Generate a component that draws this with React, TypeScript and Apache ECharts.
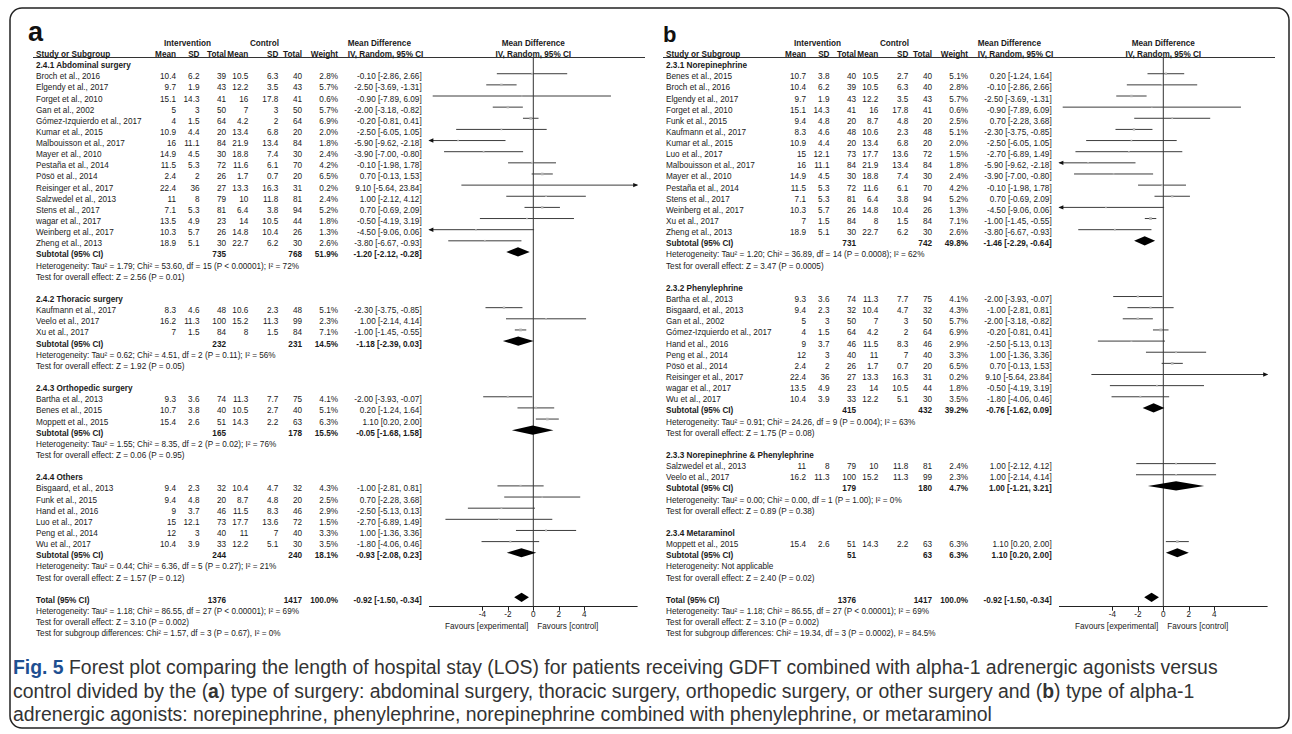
import React, { useEffect, useRef } from "react";
import * as echarts from "echarts";

const FONT = "'Liberation Sans', Arial, Helvetica, sans-serif";
const FS = 8.2;
const INK = "#1a1a1a";

// [study, intervention mean, SD, total, control mean, SD, total, weight %, MD, CI low, CI high]
const studies: [string, number, number, number, number, number, number, number, number, number, number][] = [
  ["Bartha et al., 2013", 9.3, 3.6, 74, 11.3, 7.7, 75, 4.1, -2.0, -3.93, -0.07],
  ["Benes et al., 2015", 10.7, 3.8, 40, 10.5, 2.7, 40, 5.1, 0.2, -1.24, 1.64],
  ["Bisgaard, et al., 2013", 9.4, 2.3, 32, 10.4, 4.7, 32, 4.3, -1.0, -2.81, 0.81],
  ["Broch et al., 2016", 10.4, 6.2, 39, 10.5, 6.3, 40, 2.8, -0.1, -2.86, 2.66],
  ["Elgendy et al., 2017", 9.7, 1.9, 43, 12.2, 3.5, 43, 5.7, -2.5, -3.69, -1.31],
  ["Forget et al., 2010", 15.1, 14.3, 41, 16, 17.8, 41, 0.6, -0.9, -7.89, 6.09],
  ["Funk et al., 2015", 9.4, 4.8, 20, 8.7, 4.8, 20, 2.5, 0.7, -2.28, 3.68],
  ["Gan et al., 2002", 5, 3, 50, 7, 3, 50, 5.7, -2.0, -3.18, -0.82],
  ["Gómez-Izquierdo et al., 2017", 4, 1.5, 64, 4.2, 2, 64, 6.9, -0.2, -0.81, 0.41],
  ["Hand et al., 2016", 9, 3.7, 46, 11.5, 8.3, 46, 2.9, -2.5, -5.13, 0.13],
  ["Kaufmann et al., 2017", 8.3, 4.6, 48, 10.6, 2.3, 48, 5.1, -2.3, -3.75, -0.85],
  ["Kumar et al., 2015", 10.9, 4.4, 20, 13.4, 6.8, 20, 2.0, -2.5, -6.05, 1.05],
  ["Luo et al., 2017", 15, 12.1, 73, 17.7, 13.6, 72, 1.5, -2.7, -6.89, 1.49],
  ["Malbouisson et al., 2017", 16, 11.1, 84, 21.9, 13.4, 84, 1.8, -5.9, -9.62, -2.18],
  ["Mayer et al., 2010", 14.9, 4.5, 30, 18.8, 7.4, 30, 2.4, -3.9, -7.0, -0.8],
  ["Moppett et al., 2015", 15.4, 2.6, 51, 14.3, 2.2, 63, 6.3, 1.1, 0.2, 2.0],
  ["Peng et al., 2014", 12, 3, 40, 11, 7, 40, 3.3, 1.0, -1.36, 3.36],
  ["Pestaña et al., 2014", 11.5, 5.3, 72, 11.6, 6.1, 70, 4.2, -0.1, -1.98, 1.78],
  ["Pösö et al., 2014", 2.4, 2, 26, 1.7, 0.7, 20, 6.5, 0.7, -0.13, 1.53],
  ["Reisinger et al., 2017", 22.4, 36, 27, 13.3, 16.3, 31, 0.2, 9.1, -5.64, 23.84],
  ["Salzwedel et al., 2013", 11, 8, 79, 10, 11.8, 81, 2.4, 1.0, -2.12, 4.12],
  ["Stens et al., 2017", 7.1, 5.3, 81, 6.4, 3.8, 94, 5.2, 0.7, -0.69, 2.09],
  ["Veelo et al., 2017", 16.2, 11.3, 100, 15.2, 11.3, 99, 2.3, 1.0, -2.14, 4.14],
  ["wagar et al., 2017", 13.5, 4.9, 23, 14, 10.5, 44, 1.8, -0.5, -4.19, 3.19],
  ["Weinberg et al., 2017", 10.3, 5.7, 26, 14.8, 10.4, 26, 1.3, -4.5, -9.06, 0.06],
  ["Wu et al., 2017", 10.4, 3.9, 33, 12.2, 5.1, 30, 3.5, -1.8, -4.06, 0.46],
  ["Xu et al., 2017", 7, 1.5, 84, 8, 1.5, 84, 7.1, -1.0, -1.45, -0.55],
  ["Zheng et al., 2013", 18.9, 5.1, 30, 22.7, 6.2, 30, 2.6, -3.8, -6.67, -0.93],
];

// Panel a: by type of surgery
const surgeryTitles = ["2.4.1 Abdominal surgery", "2.4.2 Thoracic surgery", "2.4.3 Orthopedic surgery", "2.4.4 Others"];
const surgeryMembers = [
  ["Broch et al., 2016", "Elgendy et al., 2017", "Forget et al., 2010", "Gan et al., 2002", "Gómez-Izquierdo et al., 2017", "Kumar et al., 2015", "Malbouisson et al., 2017", "Mayer et al., 2010", "Pestaña et al., 2014", "Pösö et al., 2014", "Reisinger et al., 2017", "Salzwedel et al., 2013", "Stens et al., 2017", "wagar et al., 2017", "Weinberg et al., 2017", "Zheng et al., 2013"],
  ["Kaufmann et al., 2017", "Veelo et al., 2017", "Xu et al., 2017"],
  ["Bartha et al., 2013", "Benes et al., 2015", "Moppett et al., 2015"],
  ["Bisgaard, et al., 2013", "Funk et al., 2015", "Hand et al., 2016", "Luo et al., 2017", "Peng et al., 2014", "Wu et al., 2017"],
];
// [int total, ctl total, weight, MD, low, high]
const surgerySubtotals = [
  [735, 768, 51.9, -1.2, -2.12, -0.28],
  [232, 231, 14.5, -1.18, -2.39, 0.03],
  [165, 178, 15.5, -0.05, -1.68, 1.58],
  [244, 240, 18.1, -0.93, -2.08, 0.23],
];
const surgeryHeterogeneity = [
  "Heterogeneity: Tau² = 1.79; Chi² = 53.60, df = 15 (P < 0.00001); I² = 72%",
  "Heterogeneity: Tau² = 0.62; Chi² = 4.51, df = 2 (P = 0.11); I² = 56%",
  "Heterogeneity: Tau² = 1.55; Chi² = 8.35, df = 2 (P = 0.02); I² = 76%",
  "Heterogeneity: Tau² = 0.44; Chi² = 6.36, df = 5 (P = 0.27); I² = 21%",
];
const surgeryEffect = [
  "Test for overall effect: Z = 2.56 (P = 0.01)",
  "Test for overall effect: Z = 1.92 (P = 0.05)",
  "Test for overall effect: Z = 0.06 (P = 0.95)",
  "Test for overall effect: Z = 1.57 (P = 0.12)",
];
const surgerySubgroupTest = "Test for subgroup differences: Chi² = 1.57, df = 3 (P = 0.67), I² = 0%";

// Panel b: by type of alpha-1 agonist
const agonistTitles = ["2.3.1 Norepinephrine", "2.3.2 Phenylephrine", "2.3.3 Norepinephrine & Phenylephrine", "2.3.4 Metaraminol"];
const agonistMembers = [
  ["Benes et al., 2015", "Broch et al., 2016", "Elgendy et al., 2017", "Forget et al., 2010", "Funk et al., 2015", "Kaufmann et al., 2017", "Kumar et al., 2015", "Luo et al., 2017", "Malbouisson et al., 2017", "Mayer et al., 2010", "Pestaña et al., 2014", "Stens et al., 2017", "Weinberg et al., 2017", "Xu et al., 2017", "Zheng et al., 2013"],
  ["Bartha et al., 2013", "Bisgaard, et al., 2013", "Gan et al., 2002", "Gómez-Izquierdo et al., 2017", "Hand et al., 2016", "Peng et al., 2014", "Pösö et al., 2014", "Reisinger et al., 2017", "wagar et al., 2017", "Wu et al., 2017"],
  ["Salzwedel et al., 2013", "Veelo et al., 2017"],
  ["Moppett et al., 2015"],
];
const agonistSubtotals = [
  [731, 742, 49.8, -1.46, -2.29, -0.64],
  [415, 432, 39.2, -0.76, -1.62, 0.09],
  [179, 180, 4.7, 1.0, -1.21, 3.21],
  [51, 63, 6.3, 1.1, 0.2, 2.0],
];
const agonistHeterogeneity = [
  "Heterogeneity: Tau² = 1.20; Chi² = 36.89, df = 14 (P = 0.0008); I² = 62%",
  "Heterogeneity: Tau² = 0.91; Chi² = 24.26, df = 9 (P = 0.004); I² = 63%",
  "Heterogeneity: Tau² = 0.00; Chi² = 0.00, df = 1 (P = 1.00); I² = 0%",
  "Heterogeneity: Not applicable",
];
const agonistEffect = [
  "Test for overall effect: Z = 3.47 (P = 0.0005)",
  "Test for overall effect: Z = 1.75 (P = 0.08)",
  "Test for overall effect: Z = 0.89 (P = 0.38)",
  "Test for overall effect: Z = 2.40 (P = 0.02)",
];
const agonistSubgroupTest = "Test for subgroup differences: Chi² = 19.34, df = 3 (P = 0.0002), I² = 84.5%";

const overallTotal = [1376, 1417, 100.0, -0.92, -1.5, -0.34];
const overallHeterogeneity = "Heterogeneity: Tau² = 1.18; Chi² = 86.55, df = 27 (P < 0.00001); I² = 69%";
const overallEffect = "Test for overall effect: Z = 3.10 (P = 0.002)";

const axisTicks = [-4, -2, 0, 2, 4];

const captionLines = [
  [["Fig. 5", "fig"], [" Forest plot comparing the length of hospital stay (LOS) for patients receiving GDFT combined with alpha-1 adrenergic agonists versus", ""]],
  [["control divided by the (", ""], ["a", "b"], [") type of surgery: abdominal surgery, thoracic surgery, orthopedic surgery, or other surgery and (", ""], ["b", "b"], [") type of alpha-1", ""]],
  [["adrenergic agonists: norepinephrine, phenylephrine, norepinephrine combined with phenylephrine, or metaraminol", ""]],
];

// ---------- layout (pixels) ----------
const ROW_H = 11.14;
const TEXT_TOP = 43.3;
const PLOT_TOP = 40.3;
const AXIS_Y = 606.7;
const XMIN = -8.15;
const XMAX = 8.15;
const PX_PER_UNIT = 12.75;
const SHIFT_B = 630;
const COL = {
  name: 36, m1: 176, sd1: 199.5, n1: 226, m2: 248.3, sd2: 278.3, n2: 302, w: 338, ci: 421.7,
  mdHead: 347.7, intHead: 187.5, ctlHead: 264.5, plotMid: 533.3, favL: 528.3, favR: 537.3,
};
const CAP_FS = 19.4;
const CAP_Y0 = 667;
const CAP_DY = 23.5;

type Cell = { x: number; r: number; t: string; a: string; b: boolean };

const fmtCI = (md: number, lo: number, hi: number) => `${md.toFixed(2)} [${lo.toFixed(2)}, ${hi.toFixed(2)}]`;

function buildPanel(titles: string[], members: string[][], subs: number[][], hets: string[], effects: string[], subgroupTest: string, dx: number) {
  const cells: Cell[] = [];
  const marks: number[][] = [];
  const diamonds: number[][] = [];
  const push = (x: number, r: number, t: string, a: string, b = false) => cells.push({ x: x + dx, r, t, a, b });
  push(COL.intHead, 0, "Intervention", "center", true);
  push(COL.ctlHead, 0, "Control", "center", true);
  push(COL.mdHead, 0, "Mean Difference", "left", true);
  push(COL.plotMid, 0, "Mean Difference", "center", true);
  push(COL.name, 1, "Study or Subgroup", "left", true);
  push(COL.m1, 1, "Mean", "right", true);
  push(COL.sd1, 1, "SD", "right", true);
  push(COL.n1, 1, "Total", "right", true);
  push(COL.m2, 1, "Mean", "right", true);
  push(COL.sd2, 1, "SD", "right", true);
  push(COL.n2, 1, "Total", "right", true);
  push(COL.w, 1, "Weight", "right", true);
  push(COL.mdHead, 1, "IV, Random, 95% CI", "left", true);
  push(COL.plotMid, 1, "IV, Random, 95% CI", "center", true);
  let r = 2;
  titles.forEach((title, gi) => {
    push(COL.name, r, title, "left", true);
    r++;
    members[gi].forEach((nm) => {
      const s = studies.find((q) => q[0] === nm)!;
      push(COL.name, r, s[0], "left");
      push(COL.m1, r, String(s[1]), "right");
      push(COL.sd1, r, String(s[2]), "right");
      push(COL.n1, r, String(s[3]), "right");
      push(COL.m2, r, String(s[4]), "right");
      push(COL.sd2, r, String(s[5]), "right");
      push(COL.n2, r, String(s[6]), "right");
      push(COL.w, r, s[7].toFixed(1) + "%", "right");
      push(COL.ci, r, fmtCI(s[8], s[9], s[10]), "right");
      marks.push([s[8], r, s[9], s[10], s[7]]);
      r++;
    });
    const st = subs[gi];
    push(COL.name, r, "Subtotal (95% CI)", "left", true);
    push(COL.n1, r, String(st[0]), "right", true);
    push(COL.n2, r, String(st[1]), "right", true);
    push(COL.w, r, st[2].toFixed(1) + "%", "right", true);
    push(COL.ci, r, fmtCI(st[3], st[4], st[5]), "right", true);
    diamonds.push([st[3], r, st[4], st[5]]);
    r++;
    push(COL.name, r, hets[gi], "left");
    r++;
    push(COL.name, r, effects[gi], "left");
    r += 2;
  });
  const t = overallTotal;
  push(COL.name, r, "Total (95% CI)", "left", true);
  push(COL.n1, r, String(t[0]), "right", true);
  push(COL.n2, r, String(t[1]), "right", true);
  push(COL.w, r, t[2].toFixed(1) + "%", "right", true);
  push(COL.ci, r, fmtCI(t[3], t[4], t[5]), "right", true);
  diamonds.push([t[3], r, t[4], t[5]]);
  push(COL.name, r + 1, overallHeterogeneity, "left");
  push(COL.name, r + 2, overallEffect, "left");
  push(COL.name, r + 3, subgroupTest, "left");
  const favRow = (626 - TEXT_TOP) / ROW_H;
  push(COL.favL, favRow, "Favours [experimental]", "right");
  push(COL.favR, favRow, "Favours [control]", "left");
  return { cells, marks, diamonds };
}

const panelA = buildPanel(surgeryTitles, surgeryMembers, surgerySubtotals, surgeryHeterogeneity, surgeryEffect, surgerySubgroupTest, 0);
const panelB = buildPanel(agonistTitles, agonistMembers, agonistSubtotals, agonistHeterogeneity, agonistEffect, agonistSubgroupTest, SHIFT_B);
const allCells = [...panelA.cells, ...panelB.cells];

const TABLE_ROWS = 54;
const PLOT_ROWS = (AXIS_Y - PLOT_TOP) / ROW_H;
const PLOT_W = (XMAX - XMIN) * PX_PER_UNIT;
const PLOT_LEFT_A = COL.plotMid - XMAX * PX_PER_UNIT;
const HEADER_LINE_Y = 57.5;

const renderCell = (params: any, api: any) => {
  const c = allCells[params.dataIndex];
  const p = api.coord([api.value(0), api.value(1)]);
  return {
    type: "text",
    x: p[0],
    y: p[1],
    style: {
      text: c.t,
      fill: INK,
      font: `${c.b ? "bold " : ""}${FS}px ${FONT}`,
      textAlign: c.a,
      textVerticalAlign: "middle",
      align: c.a,
      verticalAlign: "middle",
    },
  };
};

const renderStudy = (_params: any, api: any) => {
  const md = api.value(0), r = api.value(1), lo = api.value(2), hi = api.value(3), w = api.value(4);
  const loC = Math.max(lo, XMIN), hiC = Math.min(hi, XMAX);
  const p1 = api.coord([loC, r]);
  const p2 = api.coord([hiC, r]);
  const pc = api.coord([md, r]);
  const children: any[] = [
    { type: "line", shape: { x1: p1[0], y1: p1[1], x2: p2[0], y2: p2[1] }, style: { stroke: "#3c3c3c", lineWidth: 1 } },
  ];
  if (lo < XMIN) {
    children.push({ type: "polygon", shape: { points: [[p1[0] - 1, p1[1]], [p1[0] + 4, p1[1] - 2.2], [p1[0] + 4, p1[1] + 2.2]] }, style: { fill: "#111" } });
  }
  if (hi > XMAX) {
    children.push({ type: "polygon", shape: { points: [[p2[0] + 1, p2[1]], [p2[0] - 4, p2[1] - 2.2], [p2[0] - 4, p2[1] + 2.2]] }, style: { fill: "#111" } });
  }
  if (md >= XMIN && md <= XMAX) {
    const s = 1.2 + w * 0.22;
    children.push({ type: "rect", shape: { x: pc[0] - s / 2, y: pc[1] - s / 2, width: s, height: s }, style: { fill: "#b4b4b4" } });
  }
  return { type: "group", children };
};

const renderDiamond = (_params: any, api: any) => {
  const md = api.value(0), r = api.value(1), lo = api.value(2), hi = api.value(3);
  const pl = api.coord([lo, r]);
  const pr = api.coord([hi, r]);
  const pc = api.coord([md, r]);
  const hh = 4.6;
  return {
    type: "polygon",
    shape: { points: [[pl[0], pl[1]], [pc[0], pc[1] - hh], [pr[0], pr[1]], [pc[0], pc[1] + hh]] },
    style: { fill: "#000" },
  };
};

const renderZero = (_params: any, api: any) => {
  const a = api.coord([0, api.value(0)]);
  const b = api.coord([0, api.value(1)]);
  return { type: "line", shape: { x1: a[0], y1: a[1], x2: b[0], y2: b[1] }, style: { stroke: "#333", lineWidth: 1 } };
};

function forestAxes(gi: number) {
  return {
    x: {
      gridIndex: gi, type: "value", min: XMIN, max: XMAX, position: "bottom",
      axisLine: { show: true, onZero: false, lineStyle: { color: "#222", width: 1 } },
      axisTick: { show: true, length: 4, customValues: axisTicks, lineStyle: { color: "#222" } },
      axisLabel: { show: true, customValues: axisTicks, fontSize: FS, color: INK, margin: 3.5, fontFamily: FONT },
      splitLine: { show: false },
    },
    y: { gridIndex: gi, type: "value", min: 0, max: PLOT_ROWS, inverse: true, show: false },
  };
}

export default function App() {
  const ref = useRef<HTMLDivElement>(null);
  useEffect(() => {
    if (!ref.current) return;
    const chart = echarts.init(ref.current, undefined, { renderer: "svg" });
    const fa = forestAxes(1);
    const fb = forestAxes(2);
    const zeroStart = (HEADER_LINE_Y - PLOT_TOP) / ROW_H;
    const graphics: any[] = [
      { type: "rect", shape: { x: 10, y: 8, width: 1279, height: 720, r: 12 }, style: { fill: "none", stroke: "#222", lineWidth: 1.5 }, silent: true },
      { type: "line", shape: { x1: 33, y1: HEADER_LINE_Y, x2: 645, y2: HEADER_LINE_Y }, style: { stroke: "#333", lineWidth: 1 } },
      { type: "line", shape: { x1: 33 + SHIFT_B, y1: HEADER_LINE_Y, x2: 645 + SHIFT_B, y2: HEADER_LINE_Y }, style: { stroke: "#333", lineWidth: 1 } },
      { type: "text", x: 28, y: 45, style: { text: "a", font: `bold 27px ${FONT}`, fill: "#111", textVerticalAlign: "bottom", verticalAlign: "bottom" } },
      { type: "text", x: 663, y: 45, style: { text: "b", font: `bold 22px ${FONT}`, fill: "#111", textVerticalAlign: "bottom", verticalAlign: "bottom" } },
    ];
    captionLines.forEach((line, li) => {
      const text = line.map(([t, k]) => (k ? `{${k}|${t}}` : t)).join("");
      graphics.push({
        type: "text", x: 13, y: CAP_Y0 + li * CAP_DY,
        style: {
          text, font: `${CAP_FS}px ${FONT}`, fill: "#333", textVerticalAlign: "middle", verticalAlign: "middle",
          rich: {
            fig: { fontWeight: "bold", fontSize: CAP_FS, fontFamily: FONT, fill: "#1d4f91", color: "#1d4f91" },
            b: { fontWeight: "bold", fontSize: CAP_FS, fontFamily: FONT, fill: "#333", color: "#333" },
          },
        },
      });
    });
    chart.setOption({
      animation: false,
      backgroundColor: "#fff",
      grid: [
        { left: 0, top: TEXT_TOP, width: 1292, height: TABLE_ROWS * ROW_H, outerBoundsMode: "none" },
        { left: PLOT_LEFT_A, top: PLOT_TOP, width: PLOT_W, height: AXIS_Y - PLOT_TOP, outerBoundsMode: "none" },
        { left: PLOT_LEFT_A + SHIFT_B, top: PLOT_TOP, width: PLOT_W, height: AXIS_Y - PLOT_TOP, outerBoundsMode: "none" },
      ],
      xAxis: [{ gridIndex: 0, type: "value", min: 0, max: 1292, show: false }, fa.x, fb.x],
      yAxis: [{ gridIndex: 0, type: "value", min: 0, max: TABLE_ROWS, inverse: true, show: false }, fa.y, fb.y],
      graphic: graphics,
      series: [
        { type: "custom", xAxisIndex: 0, yAxisIndex: 0, silent: true, clip: false, progressive: 0, renderItem: renderCell, data: allCells.map((c) => [c.x, c.r]) },
        { type: "custom", xAxisIndex: 1, yAxisIndex: 1, silent: true, clip: false, renderItem: renderZero, data: [[zeroStart, PLOT_ROWS]] },
        { type: "custom", xAxisIndex: 2, yAxisIndex: 2, silent: true, clip: false, renderItem: renderZero, data: [[zeroStart, PLOT_ROWS]] },
        { type: "custom", xAxisIndex: 1, yAxisIndex: 1, silent: true, clip: false, progressive: 0, renderItem: renderStudy, data: panelA.marks },
        { type: "custom", xAxisIndex: 2, yAxisIndex: 2, silent: true, clip: false, progressive: 0, renderItem: renderStudy, data: panelB.marks },
        { type: "custom", xAxisIndex: 1, yAxisIndex: 1, silent: true, clip: false, renderItem: renderDiamond, data: panelA.diamonds },
        { type: "custom", xAxisIndex: 2, yAxisIndex: 2, silent: true, clip: false, renderItem: renderDiamond, data: panelB.diamonds },
      ],
    });
    return () => chart.dispose();
  }, []);
  return <div ref={ref} style={{ position: "absolute", left: 0, top: 0, width: 1292, height: 734, background: "#fff" }} />;
}
